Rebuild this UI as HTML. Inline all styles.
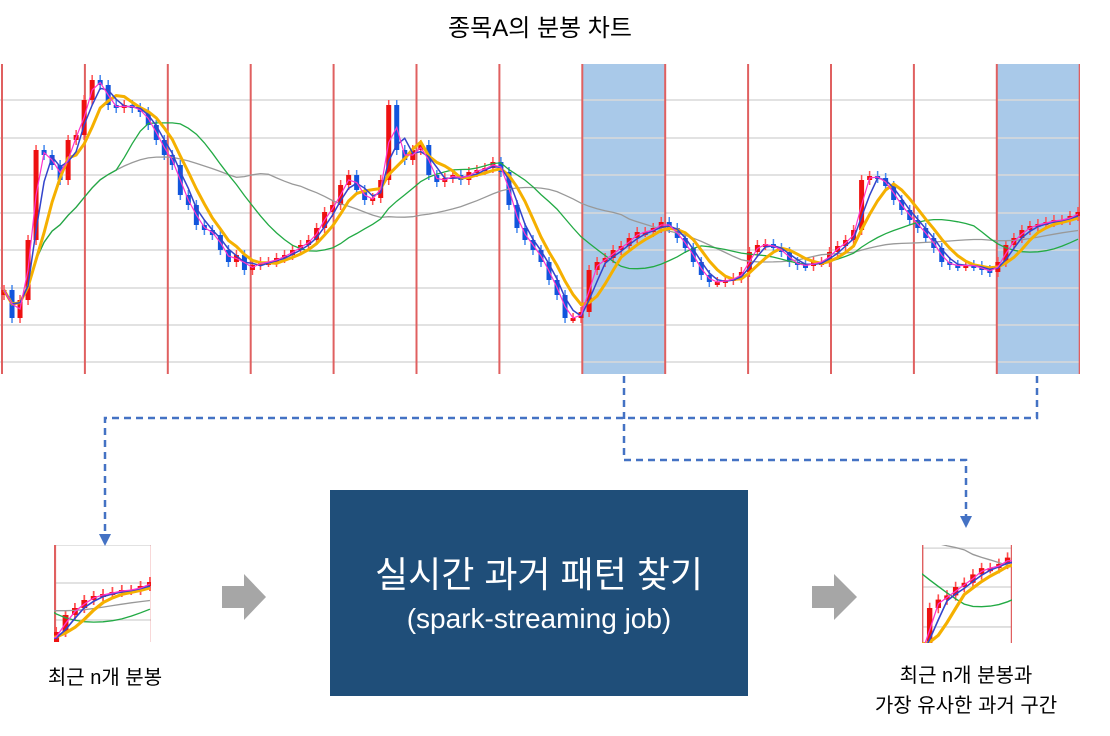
<!DOCTYPE html>
<html><head><meta charset="utf-8">
<style>
body{margin:0;background:#fff;width:1110px;height:736px;overflow:hidden;font-family:"Liberation Sans","Noto Sans CJK KR",sans-serif;}
svg{position:absolute;left:0;top:0}
</style></head>
<body>
<svg id="svg" width="1110" height="736" viewBox="0 0 1110 736">
<defs>
<clipPath id="plotclip"><rect x="0" y="64" width="1080" height="310"/></clipPath>
<clipPath id="thumbL"><rect x="54" y="545" width="97" height="97"/></clipPath>
<clipPath id="thumbR"><rect x="922" y="545" width="90" height="98"/></clipPath>
</defs>
<text x="540" y="36" text-anchor="middle" font-size="24" fill="#000">종목A의 분봉 차트</text>
<rect x="582" y="64" width="83" height="310" fill="#a9c9e9"/>
<rect x="996" y="64" width="83" height="310" fill="#a9c9e9"/>
<g id="chart" clip-path="url(#plotclip)">
  <g id="grid"></g>
  <g id="vlines"></g>
  <g id="candles"></g>
  <g id="mas"></g>
</g>
<g clip-path="url(#thumbL)">
  <rect x="54" y="545" width="97" height="97" fill="#fff"/>
  <use href="#chart" transform="translate(54,545) scale(1.17,1.0) translate(-996,-175)"/>
</g>
<g clip-path="url(#thumbR)">
  <rect x="922" y="545" width="90" height="98" fill="#fff"/>
  <use href="#chart" transform="translate(922,545) scale(1.08,1.05) translate(-582,-210)"/>
</g>
<g fill="none" stroke="#4472c4" stroke-width="2.5" stroke-dasharray="7,5">
  <path d="M624,376 V460 H966 V522"/>
  <path d="M1037,376 V418 H105 V535"/>
</g>
<polygon points="99,534 111,534 105,546" fill="#4472c4"/>
<polygon points="960,516 972,516 966,528" fill="#4472c4"/>
<polygon points="222,586 244,586 244,574 266,597 244,620 244,608 222,608" fill="#a6a6a6"/>
<polygon points="812,586 834,586 834,574 857,597 834,620 834,608 812,608" fill="#a6a6a6"/>
<rect x="330" y="490" width="418" height="206" fill="#1f4e79"/>
<text x="539" y="587" text-anchor="middle" font-size="36" fill="#fff">실시간 과거 패턴 찾기</text>
<text x="539" y="628" text-anchor="middle" font-size="28" fill="#fff">(spark-streaming job)</text>
<text x="105" y="684" text-anchor="middle" font-size="20" fill="#000">최근 n개 분봉</text>
<text x="966" y="682" text-anchor="middle" font-size="20" fill="#000">최근 n개 분봉과</text>
<text x="966" y="712" text-anchor="middle" font-size="20" fill="#000">가장 유사한 과거 구간</text>
</svg>
<script>
const closes = [110,82,100,160,250,245,235,220,260,265,300,320,315,295,292,295,292,288,275,260,245,235,205,195,175,170,165,150,138,145,130,135,138,138,142,145,150,155,160,172,188,195,215,225,210,200,202,220,295,250,240,250,255,225,218,222,225,220,228,230,232,238,228,195,172,160,150,138,120,105,82,82,88,130,138,142,150,154,162,168,168,172,178,172,162,152,138,125,118,118,120,122,128,148,155,156,152,148,138,135,134,138,138,148,154,160,170,220,224,222,214,200,190,180,172,162,152,138,135,134,135,134,130,128,138,155,162,170,174,176,178,180,180,184,188];
const maPeriods = [2,3,5,15,30];
const maColors = ['#ff33cc','#3344cc','#f5b000','#22aa44','#999999'];
const maWidths = [1.2,1.5,3,1.3,1.3];
const gridYs = [100,138,175,213,250,288,325,362];
const NS='http://www.w3.org/2000/svg';
const X0=4, X1=1078;
const step=(X1-X0)/(closes.length-1);
const xAt=i=>X0+i*step;
const yAt=p=>400-p;
function mk(tag,attrs,parent){const e=document.createElementNS(NS,tag);for(const k in attrs)e.setAttribute(k,attrs[k]);parent.appendChild(e);return e;}
const grid=document.getElementById('grid');
gridYs.forEach(y=>{const l=mk('line',{x1:0,x2:1080,y1:y,y2:y,stroke:'#d9d9d9','stroke-width':1.5},grid);

});
const vl=document.getElementById('vlines');
for(let k=0;k<14;k++){const x=2+k*82.9;const l=mk('line',{x1:x,x2:x,y1:64,y2:374,stroke:'#e06060','stroke-width':2},vl);

}
const cg=document.getElementById('candles');
closes.forEach((c,i)=>{
  const o=i?closes[i-1]:c-5;
  const up=c>=o;
  const col=up?'#ee1111':'#1155dd';
  const hi=Math.max(o,c)+5, lo=Math.min(o,c)-5;
  const x=xAt(i);
  const w=mk('line',{x1:x,x2:x,y1:yAt(hi),y2:yAt(lo),stroke:up?'#ff5050':'#4488ee','stroke-width':1.5},cg);
  
  
  const r=mk('rect',{x:x-2.5,y:yAt(Math.max(o,c)),width:5,height:Math.max(3,Math.abs(c-o)),fill:col},cg);
  
  
});
const mg=document.getElementById('mas');
[4,3,2,1,0].forEach(k=>{
  const n=maPeriods[k];let d='';
  closes.forEach((c,i)=>{const s=closes.slice(Math.max(0,i-n+1),i+1);const a=s.reduce((p,q)=>p+q,0)/s.length;d+=(i?'L':'M')+xAt(i).toFixed(1)+','+yAt(a).toFixed(1);});
  const p=mk('path',{d:d,fill:'none',stroke:maColors[k],'stroke-width':maWidths[k]},mg);
  
  
});
</script>
</body></html>
